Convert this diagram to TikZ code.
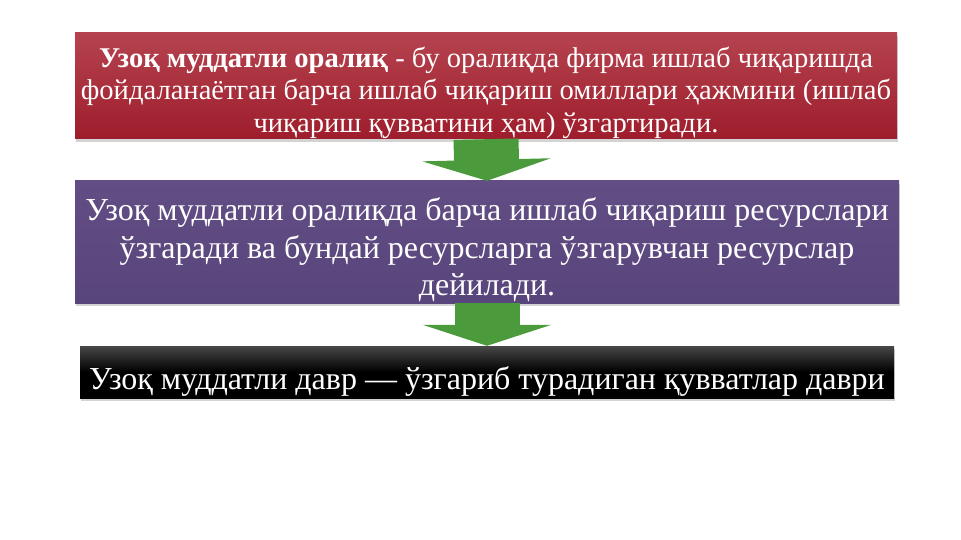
\documentclass[tikz,border=0pt]{standalone}
\usepackage{fontspec}
\setmainfont{Liberation Serif}
\usetikzlibrary{positioning,arrows.meta,shadows}
\definecolor{redtop}{HTML}{B5434F}
\definecolor{redbot}{HTML}{9E1D2C}
\definecolor{violettop}{HTML}{624E84}
\definecolor{violetbot}{HTML}{58457C}
\definecolor{flowgreen}{HTML}{4B9A3C}
% a taller first line pushes the text block down a little
\newcommand{\firstline}[1]{\rule{0pt}{#1}}
\tikzset{
  slidebox/.style={rectangle, align=center, text=white, inner xsep=2pt, inner ysep=0pt,
    drop shadow={opacity=0.35, shadow xshift=1pt, shadow yshift=-3pt}},
  redbox/.style={slidebox, top color=redtop, bottom color=redbot,
    font=\fontsize{28.6}{32.5}\selectfont},
  violetbox/.style={slidebox, top color=violettop, bottom color=violetbot,
    font=\fontsize{32}{37.5}\selectfont},
  blackbox/.style={slidebox, top color=black!72, bottom color=black, middle color=black,
    font=\fontsize{32}{36}\selectfont},
  flow/.style={draw=flowgreen, line width=65pt,
    -{Triangle[width=128pt, length=21pt]}}
}
\begin{document}
\begin{tikzpicture}[x=1pt, y=-1pt]
    \useasboundingbox (0,0) rectangle (961,540);

    \node[redbox, minimum width=822pt, minimum height=106pt] (def) at (486,86)
      {\firstline{34pt}\textbf{Узоқ муддатли оралиқ} - бу оралиқда фирма ишлаб чиқаришда\\
       фойдаланаётган барча ишлаб чиқариш омиллари ҳажмини (ишлаб\\
       чиқариш қувватини ҳам) ўзгартиради.};
    \node[violetbox, minimum width=824pt, minimum height=122pt] (res) at (487,242)
      {\firstline{39pt}Узоқ муддатли оралиқда барча ишлаб чиқариш ресурслари\\
       ўзгаради ва бундай ресурсларга ўзгарувчан ресурслар\\
       дейилади.};
    \node[blackbox, minimum width=814pt, minimum height=52pt] (period) at (487,372)
      {\firstline{42pt}Узоқ муддатли давр — ўзгариб турадиган қувватлар даври};

    % green arrows between the boxes
    \draw[flow] (def.south) -- (res.north);
    \draw[flow] (res.south) -- (period.north);
\end{tikzpicture}
\end{document}
